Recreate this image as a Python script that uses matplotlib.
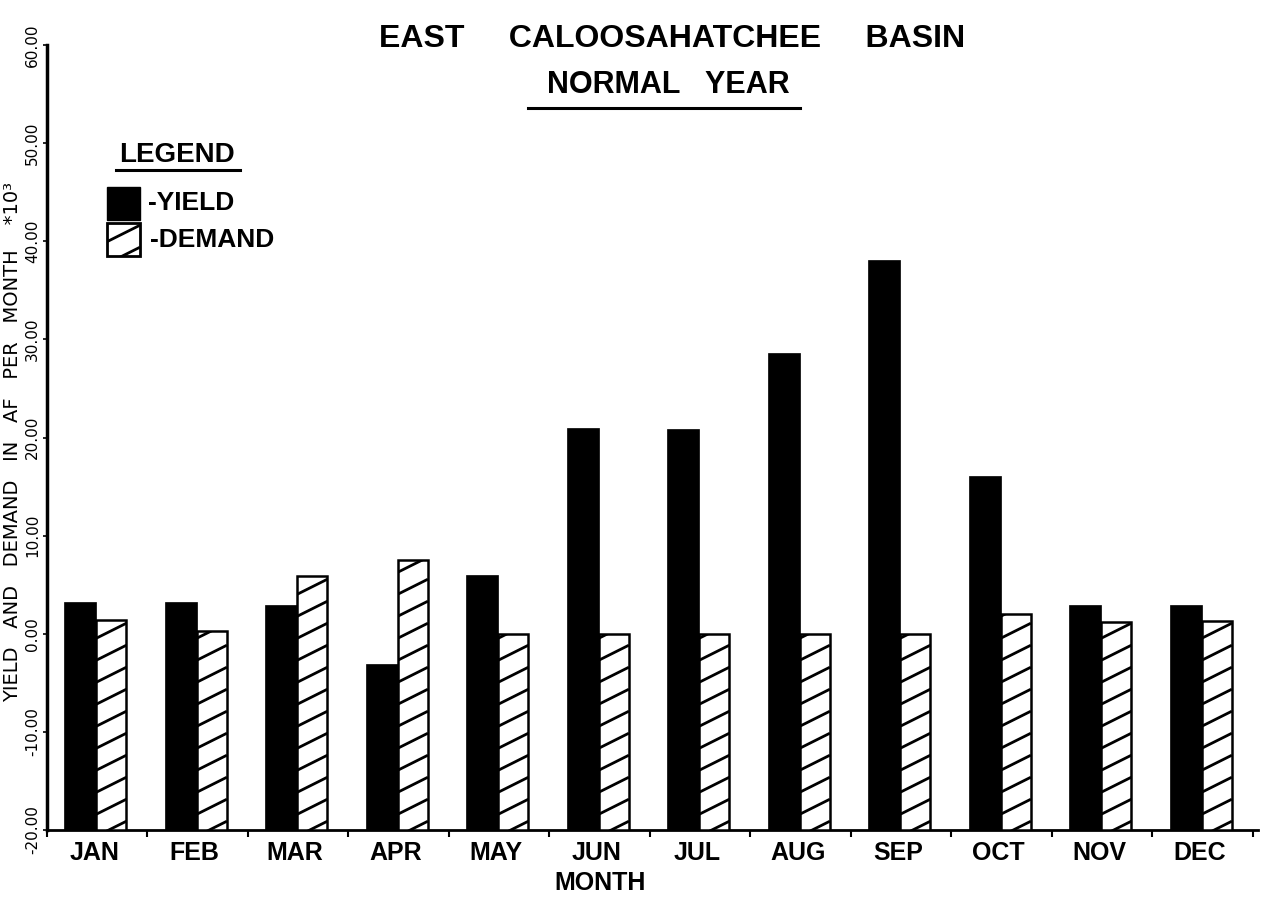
import matplotlib
matplotlib.use("Agg")
import matplotlib.pyplot as plt
from matplotlib.lines import Line2D
from matplotlib.patches import Rectangle
import numpy as np

months = ["JAN", "FEB", "MAR", "APR", "MAY", "JUN",
          "JUL", "AUG", "SEP", "OCT", "NOV", "DEC"]
# thousands of acre-feet per month
yield_vals = [3.2, 3.2, 2.9, -3.1, 6.0, 21.0, 20.9, 28.6, 38.1, 16.1, 2.9, 2.9]
demand_vals = [1.4, 0.3, 5.9, 7.5, 0.0, 0.0, 0.0, 0.0, 0.0, 2.0, 1.2, 1.25]
y_ticks = [-20, -10, 0, 10, 20, 30, 40, 50, 60]

W, H = 1261, 897
FONT = "Liberation Sans"


def fx(px):
    return px / W


def fy(py):
    return 1 - py / H


def hatch_lines(target, patch, x0, y0, w, h, sx, sy, transform):
    # slanted hatch (shallower than matplotlib's 45 deg), clipped to the patch
    m = 0.5 * sx / sy
    step = 22.0 / sy
    for c in np.arange(-m * w + step * 0.4, h, step):
        ln = Line2D([x0, x0 + w], [y0 + c, y0 + c + m * w], color="black",
                    lw=2.0, transform=transform, solid_capstyle="butt", zorder=4)
        if hasattr(target, "add_line"):
            target.add_line(ln)
        else:
            target.add_artist(ln)
        ln.set_clip_path(patch)


fig = plt.figure(figsize=(W / 100, H / 100), dpi=100)
ax = fig.add_axes([fx(47), fy(830), (1258 - 47) / W, (830 - 45) / H])
ax.set_xlim(0, 12.05)
ax.set_ylim(-20, 60)
sx = 100.5
sy = (830 - 45) / 80.0

x = np.arange(len(months))
base = -20
ax.bar(x + 0.17, np.array(yield_vals) - base, bottom=base, width=0.32,
       align="edge", color="black", edgecolor="black", lw=0.5, zorder=2)
dbars = ax.bar(x + 0.49, np.array(demand_vals) - base, bottom=base, width=0.30,
               align="edge", facecolor="white", edgecolor="black", lw=1.8, zorder=3)
for b in dbars:
    hatch_lines(ax, b, b.get_x(), b.get_y(), b.get_width(), b.get_height(),
                sx, sy, ax.transData)

for s in ["top", "right"]:
    ax.spines[s].set_visible(False)
ax.spines["left"].set_linewidth(2.5)
ax.spines["bottom"].set_linewidth(2.0)

ax.set_xticks(np.arange(13))
ax.set_xticklabels([])
ax.tick_params(axis="x", which="major", direction="out", length=5, width=1.5)
ax.set_xticks(x + 0.47, minor=True)
ax.set_xticklabels(months, minor=True, fontsize=18, fontweight="bold", family=FONT)
ax.tick_params(axis="x", which="minor", length=0, pad=8)

ax.set_yticks(y_ticks)
ax.set_yticklabels([f"{v:.2f}" for v in y_ticks], rotation=90, va="center",
                   fontsize=11)
ax.tick_params(axis="y", direction="out", length=3, width=1.2, pad=2)

fig.text(fx(13), fy(442), "YIELD   AND   DEMAND   IN   AF   PER   MONTH    *10³",
         rotation=90, ha="center", va="center", fontsize=14)
fig.text(fx(600), fy(883), "MONTH", ha="center", va="center",
         fontsize=18, fontweight="bold", family=FONT)

fig.text(fx(672), fy(39), "EAST     CALOOSAHATCHEE     BASIN", ha="center",
         va="center", fontsize=23, fontweight="bold", family=FONT)
fig.text(fx(668), fy(85), "NORMAL   YEAR", ha="center", va="center",
         fontsize=22, fontweight="bold", family=FONT)
fig.add_artist(Line2D([fx(528), fx(800)], [fy(108), fy(108)], color="black",
                      lw=2.2, transform=fig.transFigure))

# legend
fig.text(fx(119), fy(155), "LEGEND", ha="left", va="center",
         fontsize=20, fontweight="bold", family=FONT)
fig.add_artist(Line2D([fx(116), fx(240)], [fy(170), fy(170)], color="black",
                      lw=2.2, transform=fig.transFigure))
ybox = Rectangle((fx(107), fy(220)), 33 / W, 33 / H, facecolor="black",
                 edgecolor="black", transform=fig.transFigure)
fig.add_artist(ybox)
dbox = Rectangle((fx(107), fy(256)), 33 / W, 33 / H, facecolor="white",
                 edgecolor="black", lw=2, transform=fig.transFigure)
fig.add_artist(dbox)
hatch_lines(fig, dbox, fx(107), fy(256), 33 / W, 33 / H, W, H, fig.transFigure)
fig.text(fx(148), fy(203), "-YIELD", ha="left", va="center",
         fontsize=19, fontweight="bold", family=FONT)
fig.text(fx(150), fy(240), "-DEMAND", ha="left", va="center",
         fontsize=19, fontweight="bold", family=FONT)

fig.savefig("out.png", dpi=100)
